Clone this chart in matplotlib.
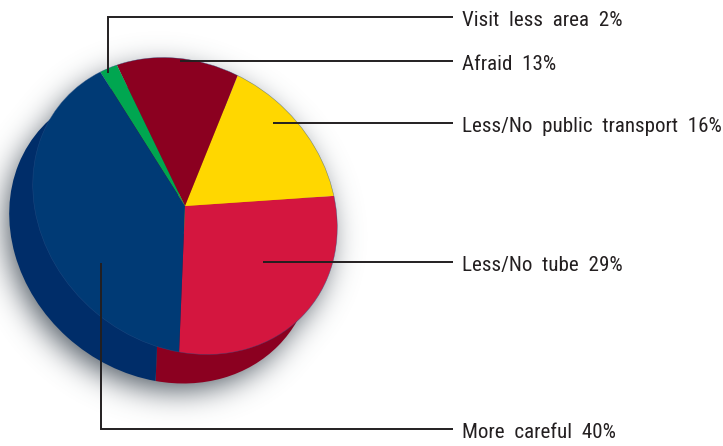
import numpy as np
import matplotlib
matplotlib.use('Agg')
import matplotlib.pyplot as plt
from matplotlib.patches import Circle
from matplotlib.transforms import Affine2D

labels = ['Less/No  tube  29%', 'Less/No  public  transport  16%', 'Afraid  13%',
          'Visit  less  area  2%', 'More  careful  40%']
values = [29, 16, 13, 2, 40]
colors = ['#D4163F', '#FFD700', '#8B0020', '#00A650', '#003A75']
side_colors = ['#8B0020', '#C9A800', '#6E0019', '#008040', '#002D69']
label_y = [262, 123, 61, 17, 429]
W, H = 723, 446

# the pie is a tilted disc: a circle squashed along one diagonal
semi_long, semi_short = 161, 139
tilt = -140
start_angle = -123.7
top_center = (185, 206)
side_center = (161.5, 235)


def ellipse_mask(xx, yy, center, scale=1.0):
    dx = xx - center[0]
    dy = yy - center[1]
    a = np.radians(tilt)
    u = dx * np.cos(a) + dy * np.sin(a)
    v = -dx * np.sin(a) + dy * np.cos(a)
    return (u / (semi_long * scale))**2 + (v / (semi_short * scale))**2 < 1


def blurred_shadow():
    yy, xx = np.mgrid[0:H, 0:W]
    shift_x, shift_y = -6, 9
    xx = xx - shift_x
    yy = yy - shift_y
    mask = ellipse_mask(xx, yy, top_center, 0.98) | ellipse_mask(xx, yy, side_center, 0.98)
    mask = mask.astype(float)
    t = np.arange(-50, 51)
    g = np.exp(-t**2 / (2 * 15.0**2))
    g = g / g.sum()
    pad = 60
    mask = np.pad(mask, pad)
    mask = np.apply_along_axis(lambda r: np.convolve(r, g, mode='same'), 0, mask)
    mask = np.apply_along_axis(lambda r: np.convolve(r, g, mode='same'), 1, mask)
    mask = mask[pad:-pad, pad:-pad]
    img = np.zeros((H, W, 4))
    img[..., 0] = 0.30
    img[..., 1] = 0.34
    img[..., 2] = 0.38
    img[..., 3] = mask
    return img


def main():
    fig = plt.figure(figsize=(W / 100, H / 100), dpi=100)
    ax = fig.add_axes([0, 0, 1, 1])

    ax.imshow(blurred_shadow(), extent=(0, W, H, 0), zorder=0, interpolation='bilinear')

    disc = Affine2D().scale(semi_long, semi_short).rotate_deg(tilt)

    # y runs down here, so the slices have to go clockwise in data terms
    side, _ = ax.pie(values, colors=side_colors, radius=1, startangle=start_angle,
                     counterclock=False, frame=True, wedgeprops={'linewidth': 0})
    for w in side:
        w.set_transform(disc + Affine2D().translate(*side_center) + ax.transData)
        w.set_zorder(1)

    face = disc + Affine2D().translate(*top_center) + ax.transData
    wedges, _ = ax.pie(values, colors=colors, radius=1, startangle=start_angle,
                       counterclock=False, frame=True, wedgeprops={'linewidth': 0})
    for w in wedges:
        w.set_transform(face)
        w.set_zorder(2)
    ax.add_patch(Circle((0, 0), 1, transform=face, fc='none', ec='#2A5288', lw=0.4,
                        alpha=0.6, zorder=3))

    ax.set_xlim(0, W)
    ax.set_ylim(H, 0)
    ax.set_aspect('auto')
    ax.axis('off')

    line = dict(color='#231F20', lw=1.4, zorder=4, solid_joinstyle='miter', solid_capstyle='butt')
    ax.plot([263, 453], [label_y[0], label_y[0]], **line)
    ax.plot([273, 453], [label_y[1], label_y[1]], **line)
    ax.plot([180, 453], [label_y[2], label_y[2]], **line)
    ax.plot([108, 108, 453], [73, label_y[3], label_y[3]], **line)
    ax.plot([101, 101, 453], [263, label_y[4], label_y[4]], **line)

    for name, y in zip(labels, label_y):
        ax.text(462, y + 9, name, family='Roboto Condensed', fontsize=15.1, color='#231F20',
                va='baseline', ha='left', zorder=5)

    fig.savefig('out.png', dpi=100)


if __name__ == '__main__':
    main()
